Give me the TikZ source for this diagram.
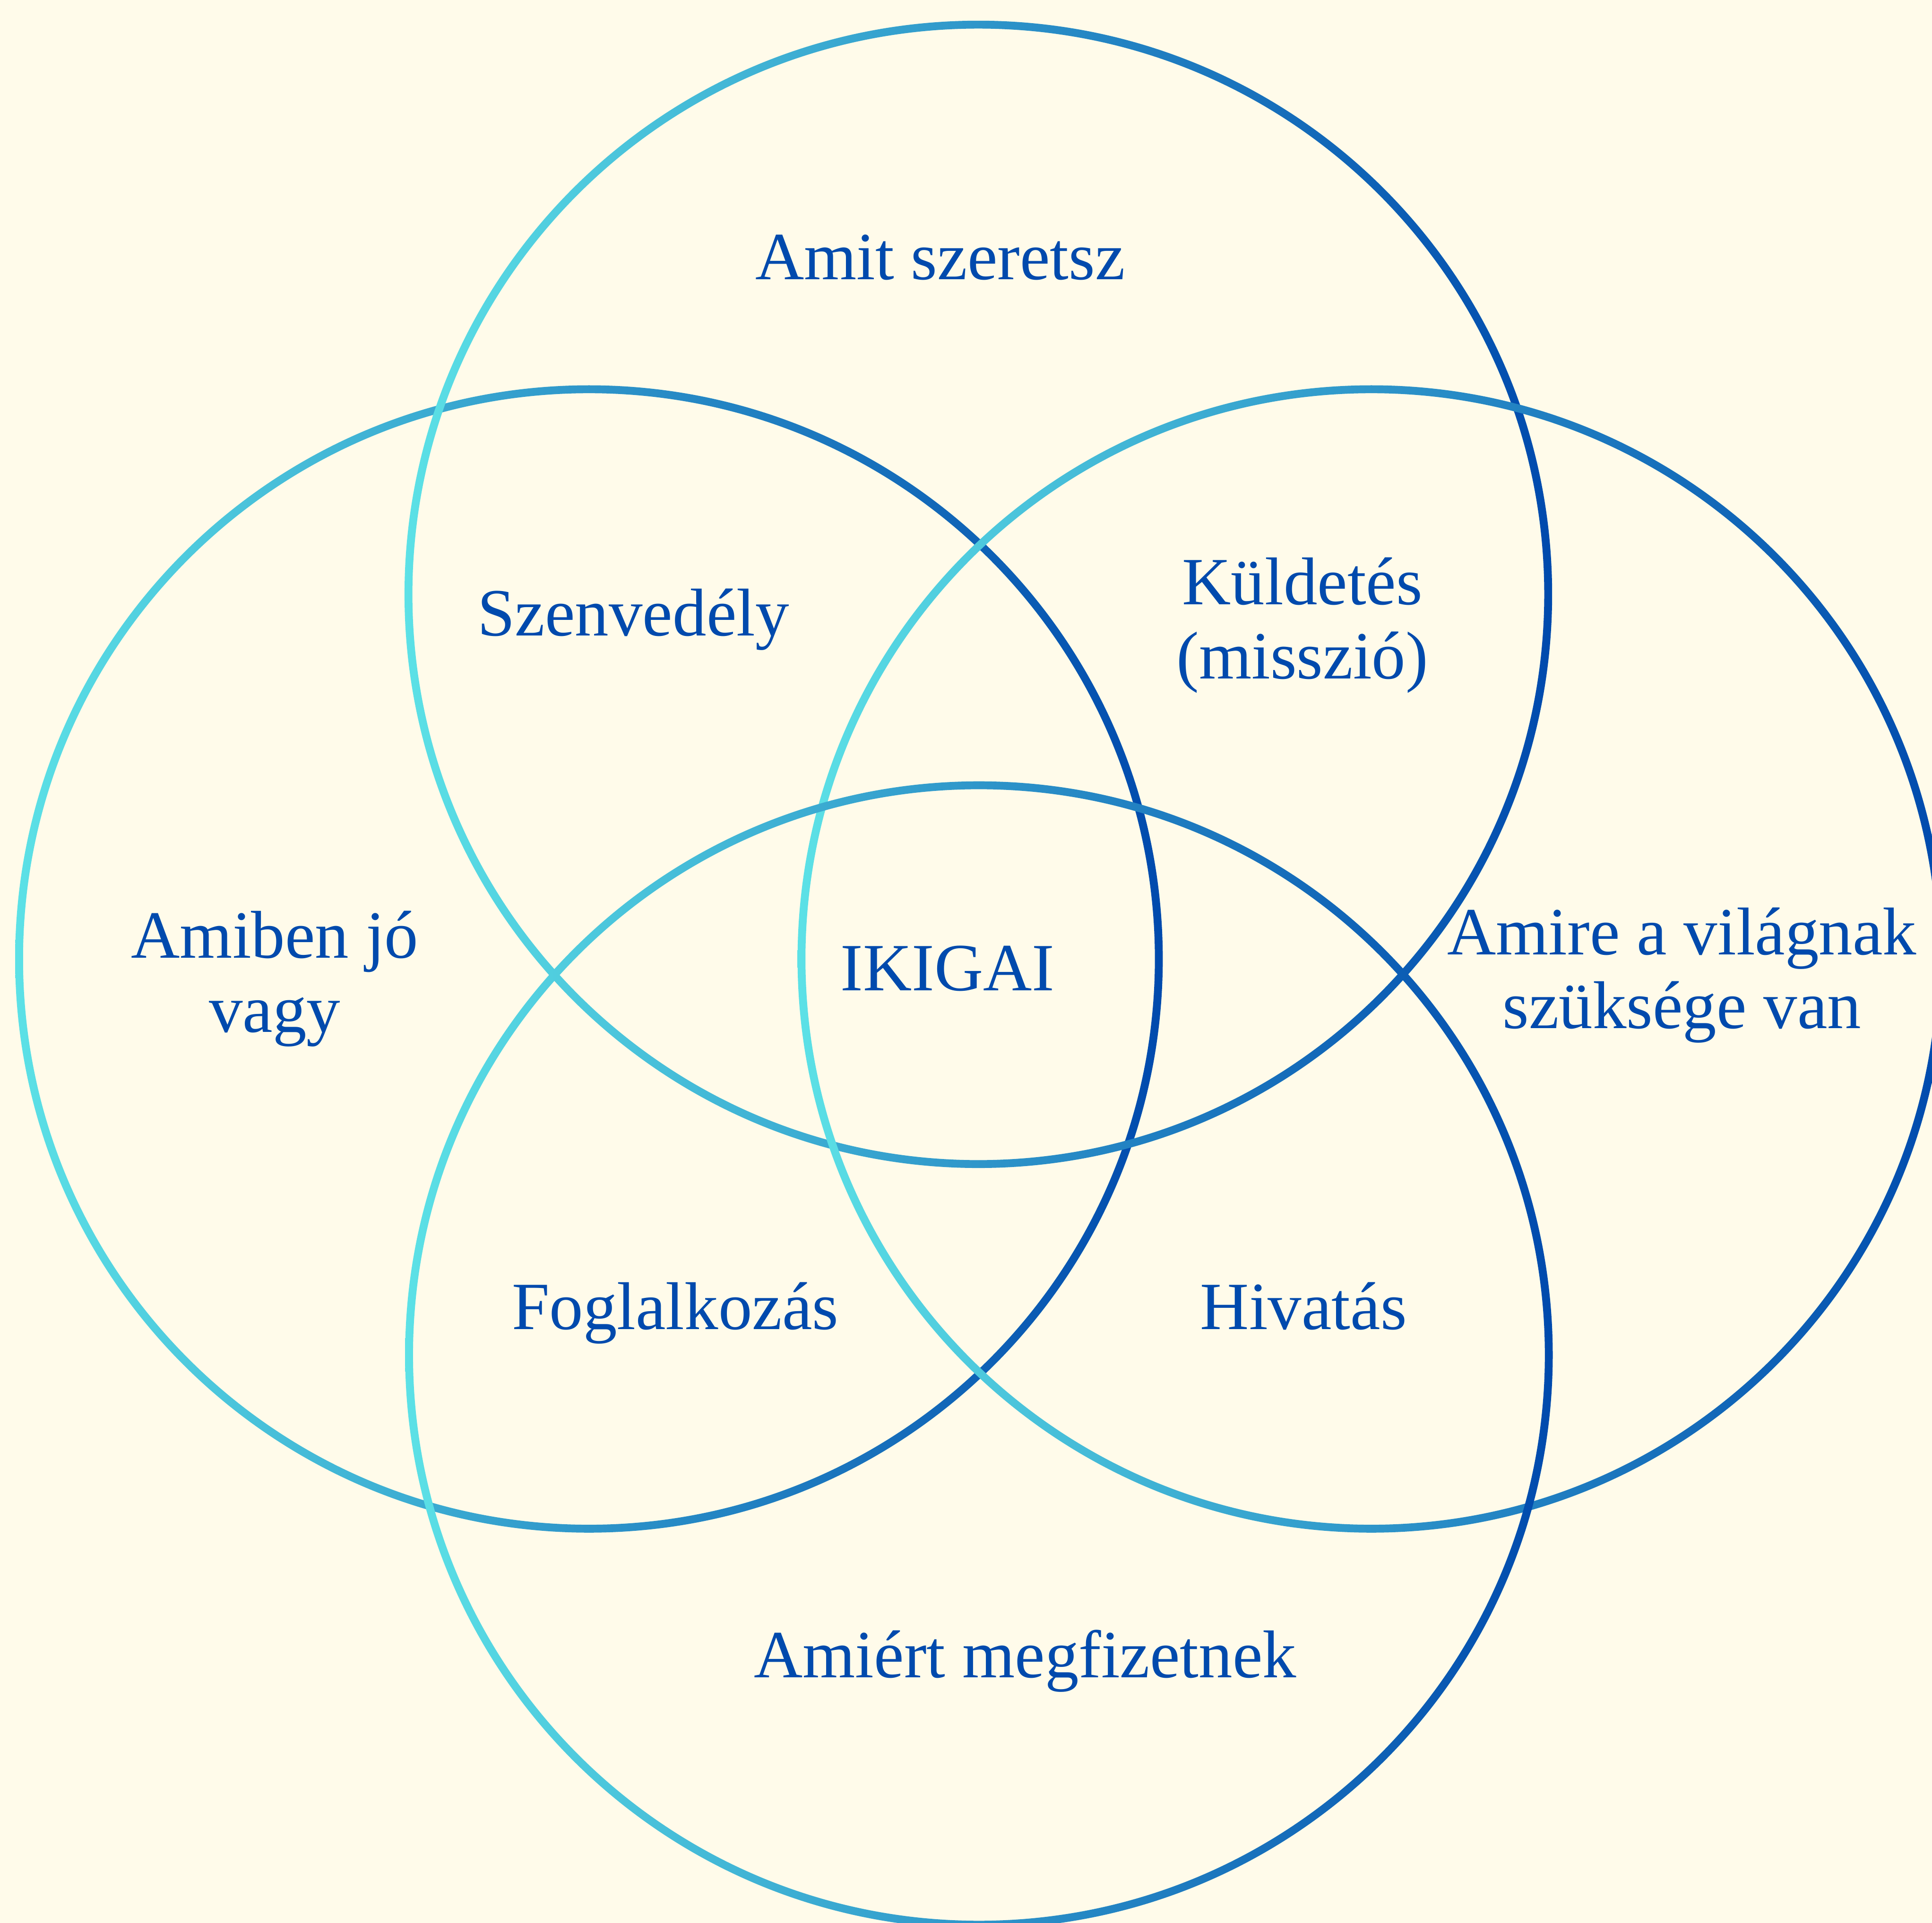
\documentclass[tikz,border=0pt]{standalone}
\usepackage{fontspec}
\setmainfont{Liberation Serif}
\definecolor{krem}{HTML}{FFFBEA}
\definecolor{kek}{HTML}{004AAD}
\definecolor{turkiz}{HTML}{5CE1E6}
\begin{document}
\begin{tikzpicture}[x=0.01cm,y=-0.01cm,
    gyuru/.style={left color=turkiz,right color=kek,even odd rule},
    felirat/.style={text=kek,font=\fontsize{15.6}{17.1}\selectfont,align=center,anchor=base,inner sep=0pt}]
  \useasboundingbox(0,0)rectangle(1568,1561);
  \clip(0,0)rectangle(1568,1561);
  \fill[krem](0,0)rectangle(1568,1561);
  % negy kor: bal, felso, jobb, also
  \foreach \cx/\cy in {478/778.5,794/482.5,1113/778.5,794.5/1100}
    \shade[gyuru](\cx,\cy)circle(465.7)(\cx,\cy)circle(459.3);
  \node[felirat](szeretsz)at(763,227){Amit szeretsz};
  \node[felirat](szenvedely)at(514,516){Szenvedély};
  \node[felirat](kuldetes)at(1057,551){Küldetés\\(misszió)};
  \node[felirat](jo)at(223,838){Amiben jó\\vagy};
  \node[felirat](ikigai)at(769,804){IKIGAI};
  \node[felirat](vilag)at(1365,835){Amire a világnak\\szüksége van};
  \node[felirat](foglalkozas)at(548,1079){Foglalkozás};
  \node[felirat](hivatas)at(1058,1079){Hivatás};
  \node[felirat](fizet)at(832,1362){Amiért megfizetnek};
\end{tikzpicture}
\end{document}
